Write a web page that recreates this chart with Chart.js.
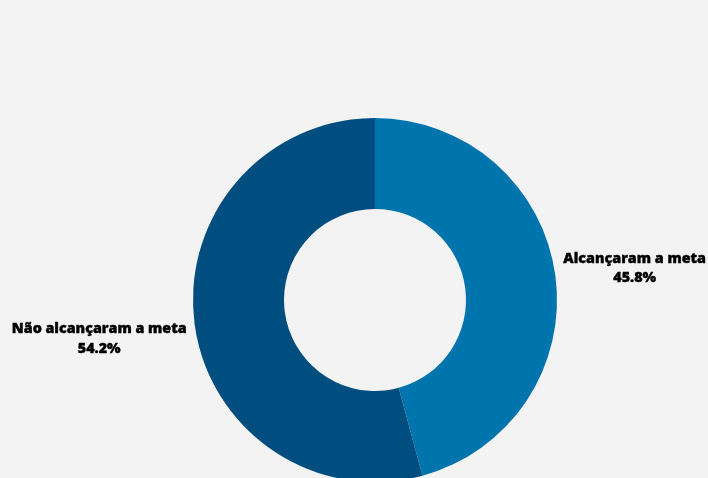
<!DOCTYPE html>
<html>
<head>
<meta charset="utf-8">
<script src="https://cdn.jsdelivr.net/npm/chart.js@4.4.0/dist/chart.umd.min.js"></script>
<style>
  html, body { margin: 0; padding: 0; background: #f3f3f3; overflow: hidden; }
  #wrap { position: relative; width: 708px; height: 600px; }
</style>
</head>
<body>
<div id="wrap"><canvas id="meta"></canvas></div>
<script>
// categories and shares (%)
var categorias = ['Alcançaram a meta', 'Não alcançaram a meta'];
var percentuais = [45.8, 54.2];
var cores = ['#0074ad', '#004d80'];

// draws "name / value%" beside each slice, outside the ring
var rotulos = {
  id: 'rotulos',
  afterDatasetsDraw: function(chart) {
    var ctx = chart.ctx;
    var meta = chart.getDatasetMeta(0);
    ctx.save();
    ctx.font = '800 14.3px "Open Sans"';
    ctx.fillStyle = '#000';
    ctx.strokeStyle = '#000';
    ctx.lineWidth = 0.4;
    ctx.lineJoin = 'round';
    meta.data.forEach(function(arc, i) {
      var p = arc.getProps(['x', 'y', 'startAngle', 'endAngle', 'outerRadius']);
      var meio = (p.startAngle + p.endAngle) / 2;
      var r = p.outerRadius + 8;
      var x = p.x + Math.cos(meio) * r;
      var y = p.y + Math.sin(meio) * r;
      var direita = Math.cos(meio) >= 0;
      var texto1 = categorias[i];
      var texto2 = percentuais[i].toFixed(1) + '%';
      var w = ctx.measureText(texto1).width;
      var cx = direita ? x + w / 2 : x - w / 2;
      var topo = Math.sin(meio) < 0 ? y - 16.5 : y + 4;
      ctx.textAlign = 'center';
      ctx.textBaseline = 'middle';
      [texto1, texto2].forEach(function(t, k) {
        ctx.fillText(t, cx, topo + k * 19.5);
        ctx.strokeText(t, cx, topo + k * 19.5);
      });
    });
    ctx.restore();
  }
};

new Chart(document.getElementById('meta'), {
  type: 'doughnut',
  data: {
    labels: categorias,
    datasets: [{
      data: percentuais,
      backgroundColor: cores,
      borderWidth: 0
    }]
  },
  options: {
    responsive: true,
    maintainAspectRatio: false,
    animation: false,
    cutout: '50%',
    layout: { padding: { top: 118, bottom: 118, left: 193, right: 151 } },
    plugins: {
      legend: { display: false },
      tooltip: { enabled: false }
    }
  },
  plugins: [rotulos]
});
</script>
</body>
</html>
